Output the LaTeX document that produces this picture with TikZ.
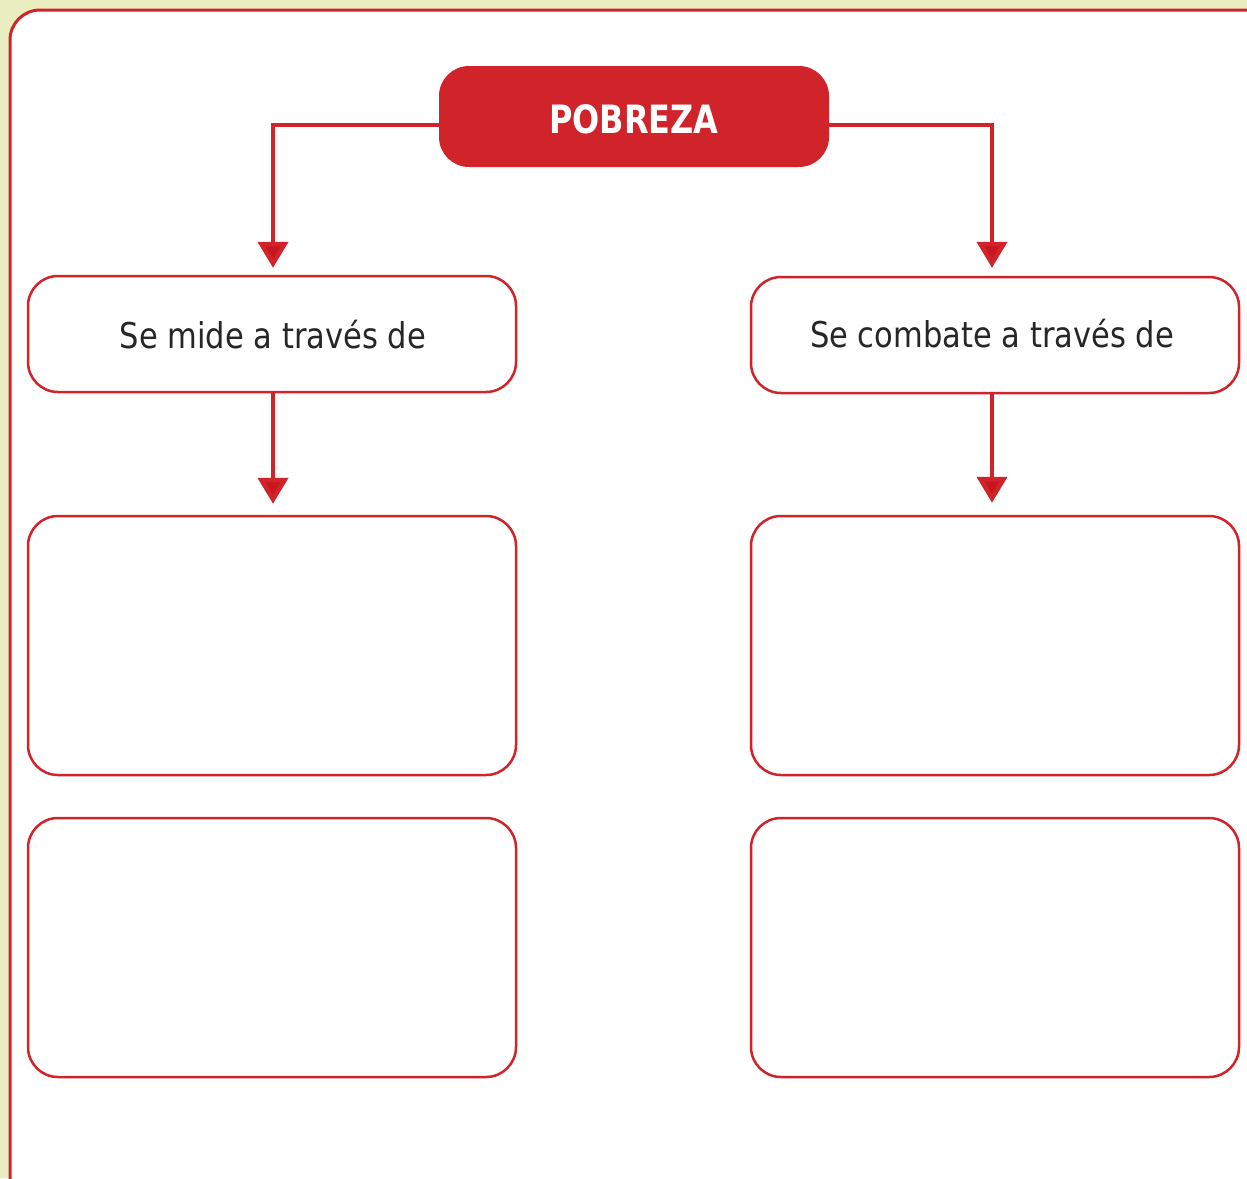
\documentclass[tikz,border=0pt]{standalone}
\usepackage{fontspec}
\setmainfont{DejaVu Sans}
\newfontfamily\tahfont[FakeStretch=0.86]{DejaVu Sans}
\newfontfamily\tahbold[FakeStretch=0.82]{DejaVu Sans Bold}
\usetikzlibrary{arrows.meta}
\definecolor{bg}{HTML}{EAEDBF}
\definecolor{rojo}{HTML}{D0232A}
\definecolor{rojoosc}{HTML}{C8161E}
\tikzset{
  frame/.style={draw=rojo,line width=3pt,fill=white,rounded corners=30pt},
  boxr/.style={draw=rojo,line width=2.5pt,fill=white,rounded corners=30pt,inner sep=0pt},
  title/.style={fill=rojo,rounded corners=30pt,inner sep=0pt},
  titletext/.style={text=white,font=\fontsize{39}{46}\tahbold,anchor=base},
  conn/.style={draw=rojo,line width=4.5pt,-{Triangle[width=30pt,length=26pt,fill=rojoosc]}},
  lbl/.style={font=\fontsize{35.5}{42}\tahfont,text=black!85,anchor=base}
}
\begin{document}
\begin{tikzpicture}[x=1pt,y=-1pt]
\useasboundingbox (0,0) rectangle (1247,1178);
\fill[bg] (0,0) rectangle (1247,1178);
\begin{scope}
\clip (0,0) rectangle (1247,1178);
\path[frame] (10,10) rectangle (1280,1210);
\end{scope}
\node[title,minimum width=390pt,minimum height=101pt] (pob) at (634,116.5) {};
\node[titletext] at (634,133) {POBREZA};
\node[boxr,minimum width=488pt,minimum height=116pt] (mide) at (272,334) {};
\node[lbl] at (273,348) {Se mide a través de};
\node[boxr,minimum width=488pt,minimum height=116pt] (comb) at (995,335) {};
\node[lbl] at (992,347) {Se combate a través de};
\node[boxr,minimum width=488pt,minimum height=259pt] (l1) at (272,645.5) {};
\node[boxr,minimum width=488pt,minimum height=259pt] (l2) at (272,947.5) {};
\node[boxr,minimum width=488pt,minimum height=259pt] (r1) at (995,645.5) {};
\node[boxr,minimum width=488pt,minimum height=259pt] (r2) at (995,947.5) {};
\draw[conn,shorten >=7pt] (pob.west |- 0,125) -| (mide.north -| 273,0);
\draw[conn,shorten >=8pt] (pob.east |- 0,125) -| (comb.north -| 992,0);
\draw[conn,shorten >=11pt] (mide.south -| 273,0) -- (l1.north -| 273,0);
\draw[conn,shorten >=12pt] (comb.south -| 992,0) -- (r1.north -| 992,0);
\end{tikzpicture}
\end{document}
